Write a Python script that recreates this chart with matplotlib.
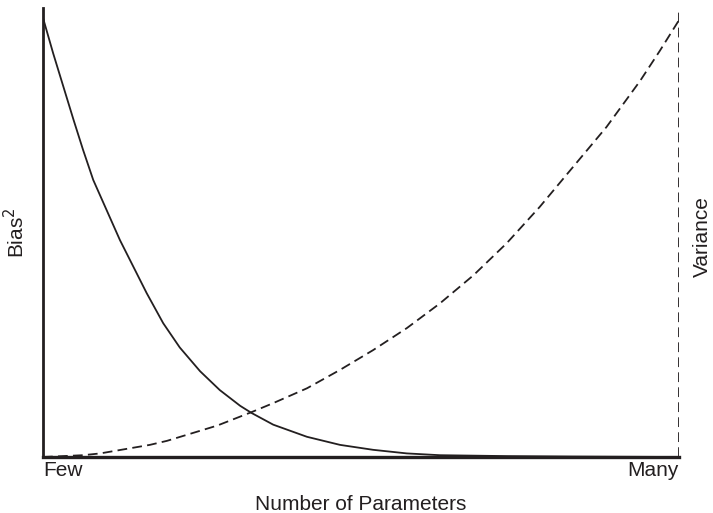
import matplotlib
matplotlib.use("Agg")
import matplotlib.pyplot as plt

# ── Data (axis fraction units) ─────────────────────────────────────────────
bias_x = [0.000, 0.016, 0.032, 0.048, 0.063, 0.079, 0.100, 0.121, 0.142,
          0.163, 0.189, 0.215, 0.247, 0.278, 0.310, 0.328, 0.362, 0.415,
          0.467, 0.519, 0.572, 0.624, 0.729, 0.833, 1.000]
bias_y = [0.978, 0.899, 0.825, 0.751, 0.684, 0.617, 0.550, 0.483, 0.424,
          0.365, 0.298, 0.244, 0.191, 0.149, 0.114, 0.098, 0.072, 0.045,
          0.027, 0.016, 0.008, 0.004, 0.002, 0.001, 0.000]

var_x = [0.000, 0.063, 0.090, 0.168, 0.195, 0.274, 0.310, 0.328, 0.362,
         0.415, 0.467, 0.519, 0.572, 0.624, 0.677, 0.729, 0.781, 0.834,
         0.886, 0.939, 0.970, 1.000]
var_y = [0.000, 0.004, 0.008, 0.027, 0.036, 0.070, 0.090, 0.100, 0.120,
         0.153, 0.194, 0.238, 0.287, 0.342, 0.405, 0.476, 0.557, 0.647,
         0.735, 0.838, 0.905, 0.973]

x_ticks = [0.0, 1.0]
x_tick_labels = ["Few", "Many"]

INK = "#231f20"
FONT = "Liberation Sans"
FS = 15
DASH = (5.4, 2.9)

fig = plt.figure(figsize=(7.13, 5.13), dpi=100, facecolor="white")
ax = fig.add_axes([43 / 713, 1 - 457 / 513, 636 / 713, 449 / 513])

ax.plot(bias_x, bias_y, color=INK, lw=1.3, solid_joinstyle="round")
ax.plot(var_x, var_y, color=INK, lw=1.3, dashes=DASH)
ax.axvline(1.0, color=INK, lw=1.3, dashes=DASH)

ax.set_xlim(0, 1)
ax.set_ylim(0, 1)
for s in ["top", "right"]:
    ax.spines[s].set_visible(False)
ax.spines["left"].set_linewidth(2.0)
ax.spines["bottom"].set_linewidth(2.4)
ax.spines["left"].set_color(INK)
ax.spines["bottom"].set_color(INK)

ax.set_yticks([])
ax.set_xticks(x_ticks)
ax.set_xticklabels(x_tick_labels, fontsize=FS, fontfamily=FONT, color=INK)
ax.tick_params(axis="x", length=0, pad=3)
lbls = ax.get_xticklabels()
lbls[0].set_ha("left")
lbls[1].set_ha("right")

ax.set_xlabel("Number of Parameters", fontsize=FS, fontfamily=FONT,
              color=INK, labelpad=11)
ax.set_ylabel("Bias$^2$", fontsize=FS, fontfamily=FONT, color=INK,
              labelpad=11)
fig.text(702 / 713, 1 - 237 / 513, "Variance", rotation=90, ha="center",
         va="center", fontsize=FS, fontfamily=FONT, color=INK)

fig.savefig("out.png", dpi=100, facecolor="white")
